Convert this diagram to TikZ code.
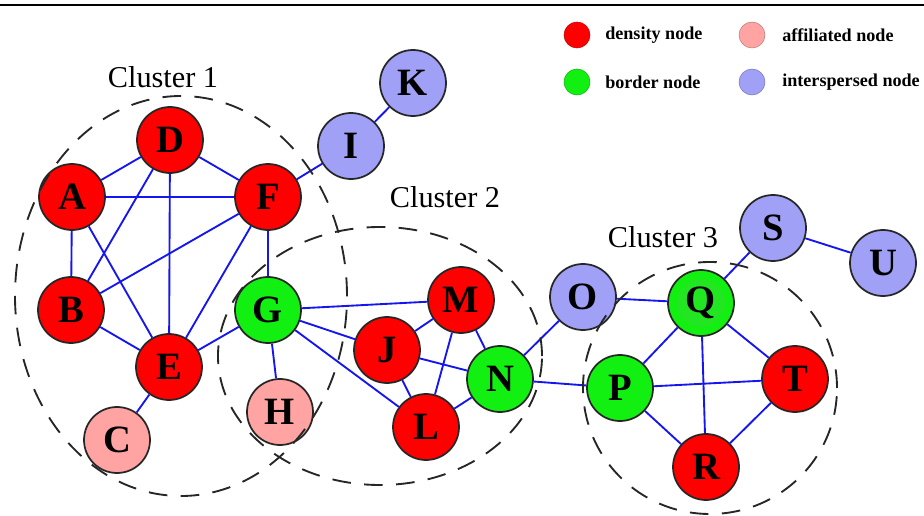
\documentclass[tikz,border=0pt]{standalone}
\usepackage{fontspec}
\setmainfont{Liberation Serif}
\definecolor{densred}{HTML}{FF0000}
\definecolor{bordgreen}{HTML}{11F011}
\definecolor{qgreen}{HTML}{22E622}
\definecolor{affpink}{HTML}{FFA3A3}
\definecolor{intblue}{HTML}{A0A0F6}
\definecolor{edgeblue}{HTML}{1515F0}
\begin{document}
\begin{tikzpicture}[x=0.75pt,y=-0.75pt,
  vert/.style={circle, draw=black!85, line width=1.3pt, minimum size=49.5pt,
    inner sep=0pt, font=\fontsize{29}{29}\selectfont\bfseries},
  dens/.style={vert, fill=densred},
  bord/.style={vert, fill=bordgreen},
  aff/.style={vert, fill=affpink},
  inter/.style={vert, fill=intblue},
  link/.style={draw=edgeblue, line width=1.4pt},
  cluster/.style={draw=black!85, line width=1.4pt, dash pattern=on 14pt off 10pt},
  clabel/.style={font=\fontsize{22.7}{24}\selectfont},
  keydot/.style={circle, minimum size=19.5pt, inner sep=0pt, draw=#1!75!black, line width=0.4pt, fill=#1},
  keytext/.style={anchor=west, inner sep=0pt, font=\fontsize{13.6}{16}\selectfont\bfseries}]
\useasboundingbox (0,0) rectangle (924,516);

% rule across the top
\draw[line width=1.5pt] (0,5) -- (924,5);

% vertices
\node[dens]  (A) at (72,197)  {A};
\node[dens]  (B) at (71,310)  {B};
\node[aff]   (C) at (117,440) {C};
\node[dens]  (D) at (170,140) {D};
\node[dens]  (E) at (169,367) {E};
\node[dens]  (F) at (268,197) {F};
\node[bord]  (G) at (268,310) {G};
\node[aff]   (H) at (280,412) {H};
\node[inter] (I) at (351,146) {I};
\node[inter] (K) at (413,83)  {K};
\node[dens]  (J) at (387,350) {J};
\node[dens]  (M) at (461,300) {M};
\node[bord]  (N) at (500,379) {N};
\node[dens]  (L) at (426,427) {L};
\node[inter] (O) at (583,297) {O};
\node[bord, path picture={\fill[qgreen] (path picture bounding box.center) circle (18pt);}]
             (Q) at (701,303) {Q};
\node[bord]  (P) at (620,388) {P};
\node[dens]  (T) at (795,379) {T};
\node[dens]  (R) at (706,467) {R};
\node[inter] (S) at (773,228) {S};
\node[inter] (U) at (883,263) {U};

% edges
\foreach \u/\v in {A/D, A/F, A/B, A/E, D/F, D/B, D/E, F/B, F/E, F/G, F/I,
                   B/E, E/G, E/C, I/K, G/M, G/J, G/L, G/H, J/M, J/N, J/L,
                   M/N, M/L, L/N, N/O, N/P, O/Q, Q/S, S/U, Q/P, Q/T, Q/R,
                   P/T, P/R, T/R}
  \draw[link] (\u) -- (\v);

% cluster outlines
\draw[cluster] (181,296) ellipse [x radius=124.5pt, y radius=150pt];
\draw[cluster] (380,356) ellipse [x radius=121.5pt, y radius=96.75pt];
\draw[cluster] (710,388) ellipse [x radius=95.25pt, y radius=94.5pt];

\node[clabel] (c1) at (163,77)  {Cluster 1};
\node[clabel] (c2) at (445,197) {Cluster 2};
\node[clabel] (c3) at (663,237) {Cluster 3};

% legend
\node[keydot=densred]   (k1) at (577,35) {};
\node[keytext] (t1) at (605,35) {density node};
\node[keydot=affpink]   (k2) at (752,35) {};
\node[keytext] (t2) at (782,35) {affiliated node};
\node[keydot=bordgreen] (k3) at (577,82) {};
\node[keytext] (t3) at (605,82) {border node};
\node[keydot=intblue]   (k4) at (752,82) {};
\node[keytext] (t4) at (782,82) {interspersed node};
\end{tikzpicture}
\end{document}
